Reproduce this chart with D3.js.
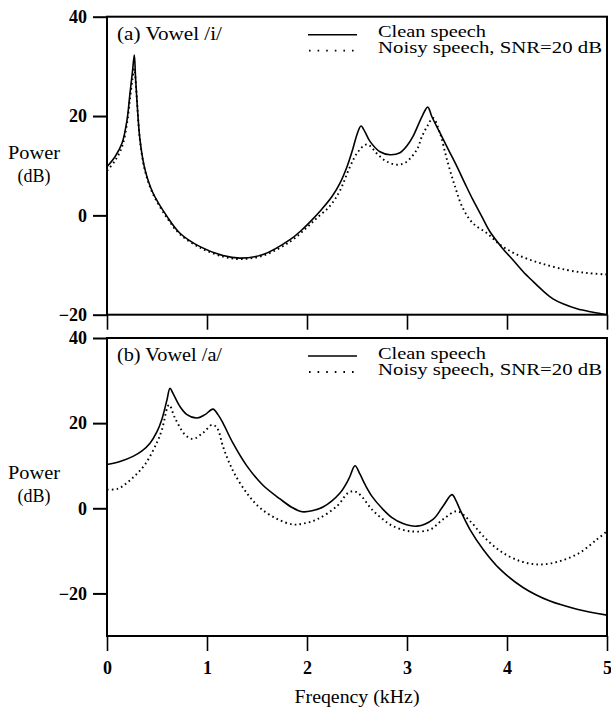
<!DOCTYPE html>
<html>
<head>
<meta charset="utf-8" />
<title>Vowel spectra</title>
<script src="https://cdn.jsdelivr.net/npm/d3@7/dist/d3.min.js"></script>
<style>
    body { margin: 0; background: #fff; }
    svg text { font-family: "Liberation Serif", "Times New Roman", serif; fill: #000; }
    .tick text { font-size: 18px; font-weight: bold; }
    .frame { fill: none; stroke: #000; stroke-width: 2; }
    .clean { fill: none; stroke: #000; stroke-width: 1.6; }
    .noisy { fill: none; stroke: #000; stroke-width: 1.9; stroke-dasharray: 1.6, 3.2; }
</style>
</head>
<body>
<svg width="611" height="707"></svg>
<script>
// ---- data ----
var xTicks = [0, 1, 2, 3, 4, 5];
var yTicks = [40, 20, 0, -20];

// (a) vowel /i/
var aCleanF  = [0, 0.08, 0.15, 0.2, 0.23, 0.255, 0.273, 0.285, 0.297, 0.33, 0.38, 0.46, 0.6, 0.73, 0.93, 1.16, 1.33, 1.56, 1.83, 1.95, 2.05, 2.15, 2.25, 2.33, 2.4, 2.46, 2.5, 2.54, 2.58, 2.63, 2.73, 2.83, 2.93, 3.0, 3.06, 3.15, 3.207, 3.25, 3.33, 3.42, 3.5, 3.58, 3.66, 3.75, 3.83, 3.95, 4.06, 4.16, 4.26, 4.36, 4.46, 4.56, 4.7, 4.86, 5.0];
var aCleanDb = [9.8, 11.8, 14.5, 19.2, 24.6, 29, 32.3, 28, 23.9, 15.2, 9.2, 4.5, -0.2, -3.6, -6.3, -8.1, -8.6, -7.9, -4.9, -2.9, -0.9, 1.3, 3.8, 6.5, 9.8, 13.5, 16.3, 18, 16.8, 14.9, 12.8, 12.2, 12.6, 14, 15.9, 19.9, 21.8, 19.8, 16.6, 13, 9.8, 6.4, 3.1, -0.3, -3.3, -6.5, -9, -11.3, -13.3, -15.2, -16.8, -17.8, -18.8, -19.5, -20];
var aNoisyF  = [0, 0.08, 0.15, 0.2, 0.23, 0.255, 0.273, 0.29, 0.305, 0.33, 0.38, 0.46, 0.6, 0.73, 0.93, 1.16, 1.33, 1.56, 1.83, 2.0, 2.1, 2.23, 2.33, 2.43, 2.51, 2.6, 2.71, 2.8, 2.9, 2.99, 3.1, 3.15, 3.21, 3.26, 3.33, 3.4, 3.48, 3.56, 3.66, 3.8, 3.93, 4.1, 4.33, 4.6, 4.8, 5.0];
var aNoisyDb = [9, 11, 13.8, 18.5, 23.5, 27.5, 29.5, 26, 21.5, 15, 9, 4.3, -0.5, -3.8, -6.5, -8.3, -8.8, -8.1, -5.3, -2.4, -0.5, 1.9, 5, 9.8, 12.8, 14.3, 12.2, 10.8, 10.2, 10.7, 13.3, 15.9, 18.2, 19.6, 16.5, 11.2, 5.8, 1.4, -1.6, -3.6, -5.9, -7.9, -9.6, -11, -11.6, -11.9];

// (b) vowel /a/
var bCleanF  = [0, 0.13, 0.26, 0.35, 0.43, 0.5, 0.55, 0.6, 0.63, 0.66, 0.73, 0.8, 0.9, 0.98, 1.06, 1.11, 1.16, 1.26, 1.4, 1.56, 1.73, 1.85, 1.95, 2.05, 2.16, 2.33, 2.42, 2.48, 2.53, 2.58, 2.65, 2.75, 2.85, 2.96, 3.1, 3.26, 3.36, 3.45, 3.49, 3.53, 3.63, 3.76, 3.93, 4.16, 4.43, 4.7, 5.0];
var bCleanDb = [10.3, 11, 12.2, 13.5, 15.3, 18, 21, 25.5, 28.2, 27, 23.9, 22, 21.2, 22, 23.3, 22, 20, 15.3, 9.9, 5.4, 2.2, 0.2, -0.8, -0.6, 0.3, 3.6, 7, 10, 8, 5.6, 2.8, 0, -2.2, -3.6, -4.2, -2.6, 0.5, 3.2, 1.8, -0.3, -5, -9.6, -14.3, -18.6, -21.8, -23.7, -25.1];
var bNoisyF  = [0, 0.11, 0.25, 0.38, 0.5, 0.55, 0.62, 0.68, 0.78, 0.86, 0.96, 1.05, 1.1, 1.16, 1.21, 1.28, 1.41, 1.53, 1.7, 1.86, 1.96, 2.1, 2.3, 2.41, 2.47, 2.53, 2.65, 2.76, 2.86, 3.03, 3.23, 3.36, 3.5, 3.63, 3.76, 3.93, 4.13, 4.33, 4.53, 4.73, 4.9, 5.0];
var bNoisyDb = [4.4, 4.6, 7, 10.3, 15.5, 18.5, 24.3, 21.2, 17.3, 16.3, 17.7, 19.6, 18.9, 14.5, 11.4, 7.9, 3.2, 0.1, -2.5, -3.8, -3.6, -2.6, 0.5, 3.6, 4, 3.2, -0.3, -2.6, -4.2, -5.4, -5, -2.6, -0.7, -3, -6.5, -10, -12.4, -13.2, -12.4, -10.4, -7.3, -5.4];

var svg = d3.select("svg");
var x = d3.scaleLinear().domain([0, 5]).range([107, 607]);

function pairs(f, v) { return f.map(function (d, i) { return [d, v[i]]; }); }

function drawPanel(cfg) {
    var y = d3.scaleLinear().domain([cfg.yMin, 40]).range([cfg.bottom, cfg.top]);
    var g = svg.append("g");

    // left axis, ticks pointing out
    var ya = g.append("g").attr("transform", "translate(107,0)")
        .call(d3.axisLeft(y).tickValues(yTicks).tickSize(14).tickPadding(6)
            .tickFormat(function (d) { return d < 0 ? "\u2212" + Math.abs(d) : d; }));
    ya.attr("font-family", null);
    ya.select(".domain").remove();
    ya.selectAll(".tick line").attr("stroke-width", 2);

    // bottom axis
    var xa = g.append("g").attr("transform", "translate(0," + cfg.bottom + ")")
        .call(d3.axisBottom(x).tickValues(xTicks).tickSize(15).tickPadding(10)
            .tickFormat(cfg.xLabels ? d3.format("d") : ""));
    xa.attr("font-family", null);
    xa.select(".domain").remove();
    xa.selectAll(".tick line").attr("stroke-width", 1.6);

    g.append("rect").attr("class", "frame")
        .attr("x", 107).attr("y", cfg.top)
        .attr("width", 500).attr("height", cfg.bottom - cfg.top);

    var line = d3.line()
        .x(function (d) { return x(d[0]); })
        .y(function (d) { return y(d[1]); })
        .curve(d3.curveCatmullRom.alpha(0.5));

    g.append("path").attr("class", "noisy").attr("d", line(pairs(cfg.noisyF, cfg.noisyDb)));
    g.append("path").attr("class", "clean").attr("d", line(pairs(cfg.cleanF, cfg.cleanDb)));

    // panel title
    g.append("text").attr("x", 117).attr("y", cfg.top + 17)
        .attr("dominant-baseline", "central")
        .attr("font-size", 18).attr("textLength", 105).attr("lengthAdjust", "spacingAndGlyphs")
        .text(cfg.title);

    // legend
    g.append("line").attr("x1", 308).attr("x2", 357)
        .attr("y1", cfg.top + 18).attr("y2", cfg.top + 18)
        .attr("stroke", "#000").attr("stroke-width", 1.6);
    g.append("line").attr("x1", 309).attr("x2", 359)
        .attr("y1", cfg.top + 34).attr("y2", cfg.top + 34)
        .attr("stroke", "#000").attr("stroke-width", 1.8).attr("stroke-dasharray", "1.6,7");
    g.append("text").attr("x", 378).attr("y", cfg.top + 15)
        .attr("dominant-baseline", "central")
        .attr("font-size", 16).attr("textLength", 108).attr("lengthAdjust", "spacingAndGlyphs")
        .text("Clean speech");
    g.append("text").attr("x", 378).attr("y", cfg.top + 31)
        .attr("dominant-baseline", "central")
        .attr("font-size", 16).attr("textLength", 224).attr("lengthAdjust", "spacingAndGlyphs")
        .text("Noisy speech, SNR=20 dB");

    // y label
    g.append("text").attr("x", 34).attr("y", cfg.powerY)
        .attr("text-anchor", "middle").attr("dominant-baseline", "central")
        .attr("font-size", 18).attr("textLength", 52).attr("lengthAdjust", "spacingAndGlyphs")
        .text("Power");
    g.append("text").attr("x", 34).attr("y", cfg.powerY + 23)
        .attr("text-anchor", "middle").attr("dominant-baseline", "central")
        .attr("font-size", 18)
        .text("(dB)");
}

drawPanel({ top: 16.7, bottom: 314.7, yMin: -20, xLabels: false, title: "(a) Vowel /i/",
    cleanF: aCleanF, cleanDb: aCleanDb, noisyF: aNoisyF, noisyDb: aNoisyDb, powerY: 153 });
drawPanel({ top: 338, bottom: 636, yMin: -30, xLabels: true, title: "(b) Vowel /a/",
    cleanF: bCleanF, cleanDb: bCleanDb, noisyF: bNoisyF, noisyDb: bNoisyDb, powerY: 473 });

svg.append("text").attr("x", 357).attr("y", 697)
    .attr("text-anchor", "middle").attr("dominant-baseline", "central")
    .attr("font-size", 18).attr("textLength", 125).attr("lengthAdjust", "spacingAndGlyphs")
    .text("Freqency (kHz)");
</script>
</body>
</html>
